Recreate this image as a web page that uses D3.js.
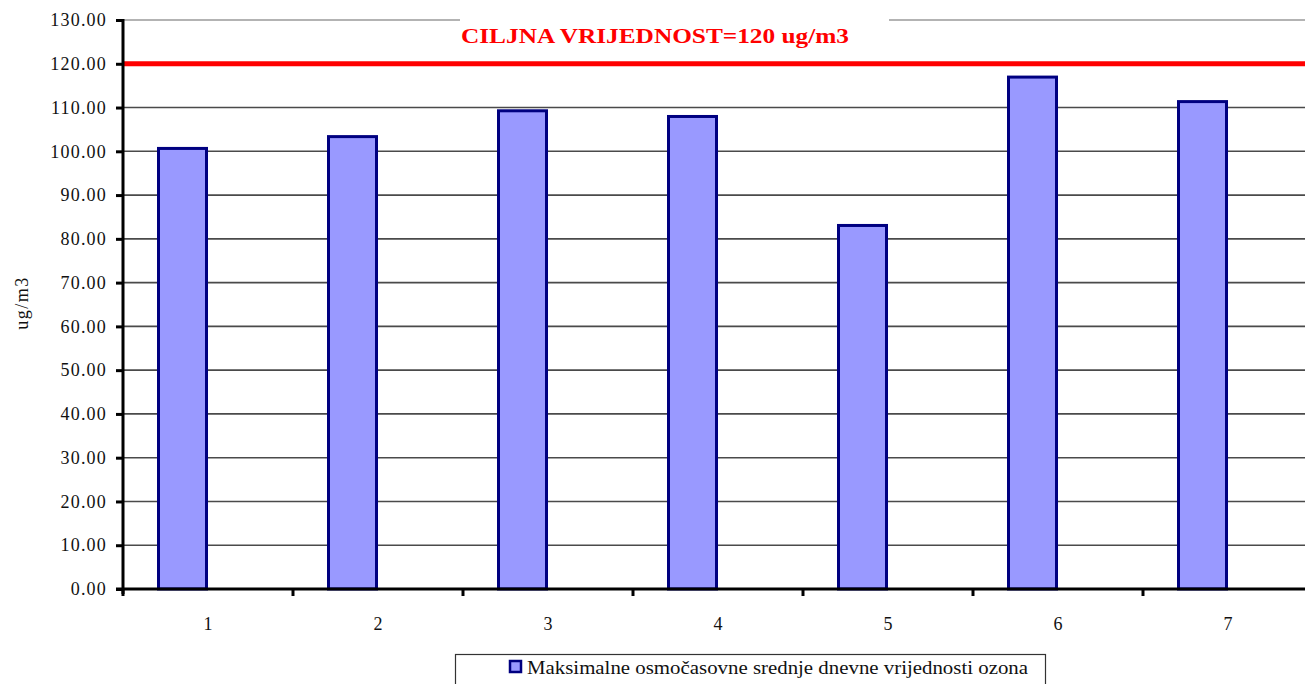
<!DOCTYPE html>
<html><head><meta charset="utf-8">
<script src="https://cdn.jsdelivr.net/npm/d3@7"></script>
<style>body{margin:0;background:#fff;}svg{display:block;}</style>
</head><body>
<script>
const categories = ["1","2","3","4","5","6","7"];
const values = [101.0, 103.7, 109.6, 108.3, 83.4, 117.3, 111.7];
const yTicks = [0,10,20,30,40,50,60,70,80,90,100,110,120,130];
const targetValue = 120;
const titleText = "CILJNA VRIJEDNOST=120 ug/m3";
const yTitle = "ug/m3";
const legendText = "Maksimalne osmočasovne srednje dnevne vrijednosti ozona";

(function(){
const W = 1305, H = 684;
const svg = d3.select("body").append("svg").attr("width", W).attr("height", H);
const pLeft = 123, pRight = 1313, pTop = 20, pBottom = 589;
const y = d3.scaleLinear().domain([0,130]).range([pBottom, pTop]);
const x = d3.scaleBand().domain(categories).range([pLeft, pRight]).padding(0);

const serif = "'Liberation Serif','Times New Roman',serif";

// gridlines
svg.append("g").selectAll("line").data(yTicks.filter(d => d > 0 && d < 130)).join("line")
  .attr("x1", pLeft).attr("x2", W).attr("y1", d => y(d)).attr("y2", d => y(d))
  .attr("stroke", "#4a4a4a").attr("stroke-width", 1.6);
// top line (lighter)
svg.append("line").attr("x1", pLeft).attr("x2", W).attr("y1", y(130)).attr("y2", y(130))
  .attr("stroke", "#9a9a9a").attr("stroke-width", 1.5);

// bars
const bw = x.bandwidth();
svg.append("g").selectAll("rect").data(values).join("rect")
  .attr("x", (d,i) => x(categories[i]) + bw*0.2 + 1.5)
  .attr("y", d => y(d) + 1.5)
  .attr("width", bw*0.3 - 3)
  .attr("height", d => pBottom - y(d) - 1.5)
  .attr("fill", "#9999ff").attr("stroke", "#000080").attr("stroke-width", 3);

// target line
svg.append("line").attr("x1", pLeft).attr("x2", W).attr("y1", y(targetValue)).attr("y2", y(targetValue))
  .attr("stroke", "#ff0000").attr("stroke-width", 5);

// y axis
const yAxis = d3.axisLeft(y).tickValues(yTicks).tickFormat(d3.format(".2f")).tickSize(7).tickPadding(9);
const gy = svg.append("g").attr("transform", `translate(${pLeft},0)`).call(yAxis);
gy.select(".domain").remove();
gy.selectAll(".tick line").attr("stroke", "#000").attr("stroke-width", 3);
gy.selectAll(".tick text").attr("font-family", serif).attr("font-size", 18).attr("fill", "#111")
  .attr("letter-spacing", 1.2);
svg.append("line").attr("x1", pLeft).attr("x2", pLeft).attr("y1", pTop - 1).attr("y2", pBottom + 5)
  .attr("stroke", "#000").attr("stroke-width", 3);

// x axis
const xAxis = d3.axisBottom(x).tickSize(0).tickPadding(28);
const gx = svg.append("g").attr("transform", `translate(0,${pBottom})`).call(xAxis);
gx.select(".domain").remove();
gx.selectAll(".tick text").attr("font-family", serif).attr("font-size", 18).attr("fill", "#111");
svg.append("line").attr("x1", pLeft - 7).attr("x2", W).attr("y1", pBottom).attr("y2", pBottom)
  .attr("stroke", "#000").attr("stroke-width", 3);
svg.append("g").selectAll("line").data(categories).join("line")
  .attr("x1", d => x(d)).attr("x2", d => x(d)).attr("y1", pBottom).attr("y2", pBottom + 7)
  .attr("stroke", "#000").attr("stroke-width", 3);

// title
svg.append("rect").attr("x", 460).attr("y", 10).attr("width", 429).attr("height", 20).attr("fill", "#fff");
svg.append("text").attr("x", 655).attr("y", 43).attr("text-anchor", "middle")
  .attr("font-family", serif).attr("font-weight", "bold").attr("font-size", 22).attr("fill", "#ff0000")
  .attr("textLength", 388).attr("lengthAdjust", "spacingAndGlyphs").text(titleText);

// y title
svg.append("text").attr("transform", "translate(28,303) rotate(-90)").attr("text-anchor", "middle")
  .attr("font-family", serif).attr("font-size", 18).attr("letter-spacing", 1.5).attr("fill", "#111").text(yTitle);

// legend
svg.append("rect").attr("x", 455.5).attr("y", 654.5).attr("width", 590).attr("height", 40)
  .attr("fill", "#fff").attr("stroke", "#333").attr("stroke-width", 1.2);
svg.append("rect").attr("x", 510).attr("y", 661).attr("width", 11).attr("height", 11)
  .attr("fill", "#9999ff").attr("stroke", "#000080").attr("stroke-width", 2.5);
svg.append("text").attr("x", 527).attr("y", 674).attr("font-family", serif).attr("font-size", 18)
  .attr("fill", "#111").attr("textLength", 501).attr("lengthAdjust", "spacingAndGlyphs").text(legendText);
})();
</script>
</body></html>
